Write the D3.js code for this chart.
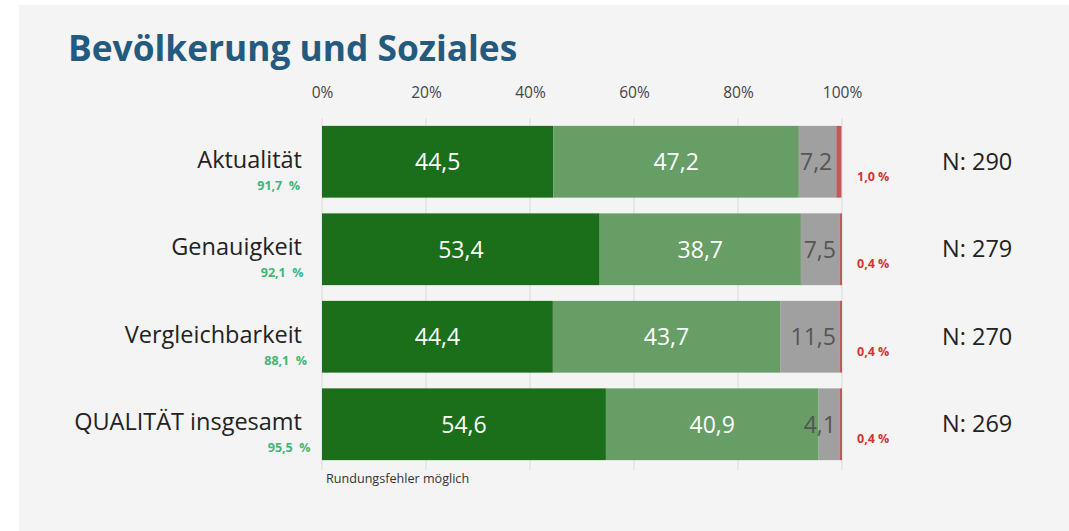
<!DOCTYPE html>
<html><head><meta charset="utf-8">
<script src="https://cdn.jsdelivr.net/npm/d3@7"></script>
<style>
html,body{margin:0;padding:0;background:#fff;}
svg{display:block;font-family:"Open Sans",sans-serif;}
text{white-space:pre;}
</style></head>
<body>
<svg id="c" width="1069" height="531"></svg>
<script>
const categories = ["Aktualität","Genauigkeit","Vergleichbarkeit","QUALITÄT insgesamt"];
const seriesNames = ["sehr gut","gut","weniger gut","schlecht"];
const s1 = [44.5,53.4,44.4,54.6];
const s2 = [47.2,38.7,43.7,40.9];
const s3 = [7.2,7.5,11.5,4.1];
const s4 = [1.0,0.4,0.4,0.4];
const positiveShare = [91.7,92.1,88.1,95.5];
const nValues = [290,279,270,269];
const tickValues = [0,20,40,60,80,100];
const title = "Bevölkerung und Soziales";
const footnote = "Rundungsfehler möglich";

const colors = ["#1b6f1b","#669e66","#a0a0a0","#c05a5a"];
const fmt = v => String(v.toFixed(1)).replace(".",",");

const svg = d3.select("#c");
svg.append("rect").attr("x",19).attr("y",5).attr("width",1050).attr("height",526).attr("fill","#f4f4f4");

svg.append("text").attr("x",68).attr("y",61).attr("font-size",35.3).attr("font-weight",700)
  .attr("fill","#245a7e").text(title);

const x = d3.scaleLinear().domain([0,100]).range([322,842]);
const y = d3.scaleBand().domain(categories).range([118,468]).paddingInner(0.18).paddingOuter(0.09);

// gridlines
svg.append("g").selectAll("line").data(tickValues).join("line")
  .attr("x1",d=>x(d)).attr("x2",d=>x(d)).attr("y1",118).attr("y2",470)
  .attr("stroke","#d9d9d9").attr("stroke-width",1);

// axis labels
const ax = svg.append("g").attr("transform","translate(0,101)")
  .call(d3.axisTop(x).tickValues(tickValues).tickSize(0).tickFormat(d=>d+"%"));
ax.select(".domain").remove();
ax.selectAll("text").attr("font-size",15.5).attr("fill","#444").attr("font-family","Open Sans, sans-serif");

const series = [s1,s2,s3,s4];
const rows = categories.map((c,i)=>{
  let acc=0; return series.map((s,k)=>{const d={cat:c,k,v:s[i],x0:acc,x1:acc+s[i]}; acc+=s[i]; return d;});
});

const g = svg.append("g");
rows.forEach(r=>{
  g.selectAll(null).data(r).join("rect")
    .attr("x",d=>x(d.x0)).attr("width",d=>x(d.x1)-x(d.x0))
    .attr("y",d=>y(d.cat)).attr("height",y.bandwidth())
    .attr("fill",d=>colors[d.k]);
  g.selectAll(null).data(r.filter(d=>d.k<3)).join("text")
    .attr("x",d=>d.k<2 ? (x(d.x0)+x(d.x1))/2 : x(d.x1)-4)
    .attr("y",d=>y(d.cat)+y.bandwidth()/2)
    .attr("dy","0.36em")
    .attr("text-anchor",d=>d.k<2?"middle":"end")
    .attr("font-size",23)
    .attr("fill",d=>d.k<2?"#fff":"#555")
    .text(d=>fmt(d.v));
});

// category labels
svg.append("g").selectAll("text").data(categories).join("text")
  .attr("x",302).attr("y",d=>y(d)+y.bandwidth()/2-2).attr("dy","0.35em")
  .attr("text-anchor","end").attr("font-size",23.5).attr("fill","#222").text(d=>d);

svg.append("g").selectAll("text").data(positiveShare).join("text")
  .attr("x",(d,i)=>300+i*3.5).attr("y",(d,i)=>y(categories[i])+y.bandwidth()/2+28)
  .attr("text-anchor","end").attr("font-size",12.5).attr("font-weight",700).attr("fill","#3cb878")
  .text(d=>fmt(d)+"  %");

svg.append("g").selectAll("text").data(s4).join("text")
  .attr("x",857).attr("y",(d,i)=>y(categories[i])+y.bandwidth()/2+19)
  .attr("font-size",12.5).attr("font-weight",700).attr("fill","#d03535")
  .text(d=>fmt(d)+" %");

svg.append("g").selectAll("text").data(nValues).join("text")
  .attr("x",942).attr("y",(d,i)=>y(categories[i])+y.bandwidth()/2).attr("dy","0.35em")
  .attr("font-size",23.5).attr("fill","#222").text(d=>"N: "+d);

svg.append("text").attr("x",326).attr("y",483).attr("font-size",12.6).attr("fill","#333").text(footnote);
</script>
</body></html>
